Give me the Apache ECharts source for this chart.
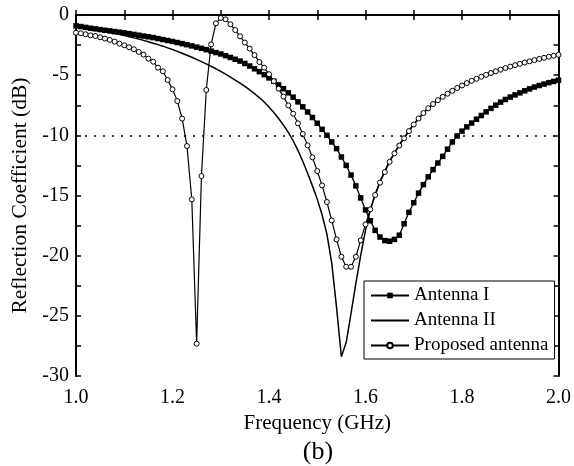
<!DOCTYPE html>
<html>
<head>
<meta charset="utf-8">
<script src="https://cdn.jsdelivr.net/npm/echarts@6/dist/echarts.min.js"></script>
<style>html,body{margin:0;padding:0;background:#fff;}#c{width:574px;height:466px;}</style>
</head>
<body>
<div id="c"></div>
<script>
const freq = [1.00,1.01,1.02,1.03,1.04,1.05,1.06,1.07,1.08,1.09,
1.10,1.11,1.12,1.13,1.14,1.15,1.16,1.17,1.18,1.19,
1.20,1.21,1.22,1.23,1.24,1.25,1.26,1.27,1.28,1.29,
1.30,1.31,1.32,1.33,1.34,1.35,1.36,1.37,1.38,1.39,
1.40,1.41,1.42,1.43,1.44,1.45,1.46,1.47,1.48,1.49,
1.50,1.51,1.52,1.53,1.54,1.55,1.56,1.57,1.58,1.59,
1.60,1.61,1.62,1.63,1.64,1.65,1.66,1.67,1.68,1.69,
1.70,1.71,1.72,1.73,1.74,1.75,1.76,1.77,1.78,1.79,
1.80,1.81,1.82,1.83,1.84,1.85,1.86,1.87,1.88,1.89,
1.90,1.91,1.92,1.93,1.94,1.95,1.96,1.97,1.98,1.99,2.00];

const antennaI = [-0.90,-0.96,-1.03,-1.10,-1.15,-1.21,-1.27,-1.32,-1.38,-1.43,
-1.49,-1.55,-1.61,-1.68,-1.75,-1.81,-1.88,-1.96,-2.04,-2.12,
-2.20,-2.29,-2.38,-2.47,-2.57,-2.67,-2.77,-2.88,-3.00,-3.12,
-3.24,-3.38,-3.53,-3.68,-3.83,-4.03,-4.24,-4.47,-4.71,-4.96,
-5.23,-5.51,-5.81,-6.13,-6.47,-6.83,-7.22,-7.63,-8.06,-8.52,
-9.00,-9.50,-10.00,-10.55,-11.10,-11.80,-12.50,-13.30,-14.20,-15.20,
-16.20,-17.10,-17.90,-18.45,-18.75,-18.80,-18.65,-18.30,-17.35,-16.40,
-15.60,-14.80,-14.10,-13.45,-12.85,-12.30,-11.75,-11.15,-10.55,-10.05,
-9.65,-9.30,-8.98,-8.66,-8.35,-8.05,-7.76,-7.49,-7.24,-7.02,
-6.82,-6.64,-6.47,-6.30,-6.14,-5.99,-5.86,-5.74,-5.62,-5.52,-5.42];

const antennaII = [-1.03,-1.08,-1.13,-1.19,-1.25,-1.32,-1.39,-1.46,-1.54,-1.62,
-1.71,-1.80,-1.90,-2.00,-2.11,-2.22,-2.34,-2.46,-2.59,-2.73,
-2.87,-3.02,-3.18,-3.34,-3.51,-3.69,-3.87,-4.06,-4.26,-4.47,
-4.69,-4.92,-5.16,-5.41,-5.67,-5.94,-6.23,-6.53,-6.86,-7.23,
-7.65,-8.10,-8.60,-9.15,-9.75,-10.45,-11.25,-12.15,-13.15,-14.20,
-15.30,-16.60,-18.20,-20.60,-24.30,-28.40,-27.20,-24.80,-22.30,-20.00,
-17.90,-16.20,-14.90,-13.85,-12.95,-12.15,-11.45,-10.80,-10.20,-9.62,
-9.08,-8.60,-8.16,-7.76,-7.41,-7.09,-6.81,-6.55,-6.31,-6.08,
-5.87,-5.67,-5.48,-5.31,-5.14,-4.98,-4.83,-4.69,-4.55,-4.42,
-4.30,-4.18,-4.07,-3.96,-3.86,-3.76,-3.66,-3.57,-3.48,-3.40,-3.32];

const proposed = [-1.47,-1.52,-1.60,-1.69,-1.74,-1.85,-1.96,-2.07,-2.21,-2.38,
-2.52,-2.68,-2.85,-3.07,-3.29,-3.63,-3.88,-4.38,-4.68,-5.40,
-6.18,-7.15,-8.61,-10.89,-15.32,-27.32,-13.38,-6.23,-2.44,-0.69,
-0.25,-0.36,-0.77,-1.25,-1.77,-2.29,-2.79,-3.33,-3.91,-4.38,
-4.92,-5.50,-6.12,-6.78,-7.51,-8.20,-9.00,-9.89,-10.83,-11.83,
-12.97,-14.16,-15.54,-17.07,-18.65,-20.09,-20.92,-20.92,-20.09,-18.73,
-17.40,-16.15,-14.96,-13.93,-13.05,-12.20,-11.50,-10.85,-10.25,-9.65,
-9.10,-8.60,-8.15,-7.75,-7.40,-7.08,-6.80,-6.54,-6.30,-6.07,
-5.86,-5.66,-5.47,-5.30,-5.13,-4.97,-4.82,-4.68,-4.54,-4.41,
-4.29,-4.17,-4.06,-3.95,-3.85,-3.75,-3.65,-3.56,-3.47,-3.39,-3.31];

const seriesNames = ['Antenna I', 'Antenna II', 'Proposed antenna'];
const xTitle = 'Frequency (GHz)';
const yTitle = 'Reflection Coefficient (dB)';
const panelLabel = '(b)';
const threshold = -10;

const pairs = vals => freq.map((f, i) => [f, vals[i]]);
const FONT = 'Liberation Serif';

const chart = echarts.init(document.getElementById('c'), null, {renderer: 'canvas'});
const baseAxisLine = {show: true, lineStyle: {color: '#000', width: 2}};
const tickStyle = {show: true, inside: true, length: 5, lineStyle: {color: '#000', width: 1.5}};
const minorStyle = {show: true, splitNumber: 2, length: 5, lineStyle: {color: '#000', width: 1.5}};

chart.setOption({
  animation: false,
  backgroundColor: '#fff',
  grid: {left: 76, top: 15, width: 486, height: 361, containLabel: false},
  legend: {
    orient: 'vertical',
    left: 364, top: 281,
    padding: [5, 6, 4, 6],
    itemGap: 6,
    itemWidth: 38,
    itemHeight: 7,
    borderColor: '#000',
    borderWidth: 1,
    backgroundColor: '#fff',
    textStyle: {fontFamily: FONT, fontSize: 19, color: '#000'},
    data: [
      {name: seriesNames[0]},
      {name: seriesNames[1], itemStyle: {opacity: 0}},
      {name: seriesNames[2]}
    ]
  },
  xAxis: [{
    type: 'value', min: 1, max: 2, interval: 0.2,
    axisLine: baseAxisLine, axisTick: tickStyle, minorTick: minorStyle,
    splitLine: {show: false},
    axisLabel: {fontFamily: FONT, fontSize: 20, color: '#000', margin: 12,
      formatter: v => v.toFixed(1)},
    name: xTitle, nameLocation: 'middle', nameGap: 37,
    nameTextStyle: {fontFamily: FONT, fontSize: 21, color: '#000'}
  }, {
    type: 'value', min: 1, max: 2, interval: 0.2, position: 'top',
    axisLine: baseAxisLine, axisTick: tickStyle, minorTick: minorStyle,
    splitLine: {show: false}, axisLabel: {show: false}
  }],
  yAxis: [{
    type: 'value', min: -30, max: 0, interval: 5,
    axisLine: baseAxisLine, axisTick: tickStyle, minorTick: minorStyle,
    splitLine: {show: false},
    axisLabel: {fontFamily: FONT, fontSize: 20, color: '#000', margin: 7},
    name: yTitle, nameLocation: 'middle', nameGap: 37,
    nameTextStyle: {fontFamily: FONT, fontSize: 21.5, color: '#000'}
  }, {
    type: 'value', min: -30, max: 0, interval: 5, position: 'right',
    axisLine: baseAxisLine, axisTick: tickStyle, minorTick: minorStyle,
    splitLine: {show: false}, axisLabel: {show: false}
  }],
  graphic: [{
    type: 'text', x: 318, y: 452,
    style: {text: panelLabel, font: '26px "Liberation Serif"', fill: '#000',
      align: 'center', verticalAlign: 'middle'}
  }],
  series: [{
    name: seriesNames[0], type: 'line', data: pairs(antennaI),
    symbol: 'rect', symbolSize: 5.5, showAllSymbol: true,
    itemStyle: {color: '#000'}, lineStyle: {color: '#000', width: 1.3},
    markLine: {
      silent: true, symbol: 'none', label: {show: false},
      lineStyle: {color: '#000', type: [2, 7], width: 1.6},
      data: [{yAxis: threshold}]
    },
    z: 2
  }, {
    name: seriesNames[1], type: 'line', data: pairs(antennaII),
    symbol: 'none',
    itemStyle: {color: '#000'}, lineStyle: {color: '#000', width: 1.5},
    z: 3
  }, {
    name: seriesNames[2], type: 'line', data: pairs(proposed),
    symbol: 'circle', symbolSize: 5, showAllSymbol: true,
    itemStyle: {color: '#fff', borderColor: '#000', borderWidth: 1},
    lineStyle: {color: '#000', width: 1.2},
    z: 4
  }]
});
</script>
</body>
</html>
